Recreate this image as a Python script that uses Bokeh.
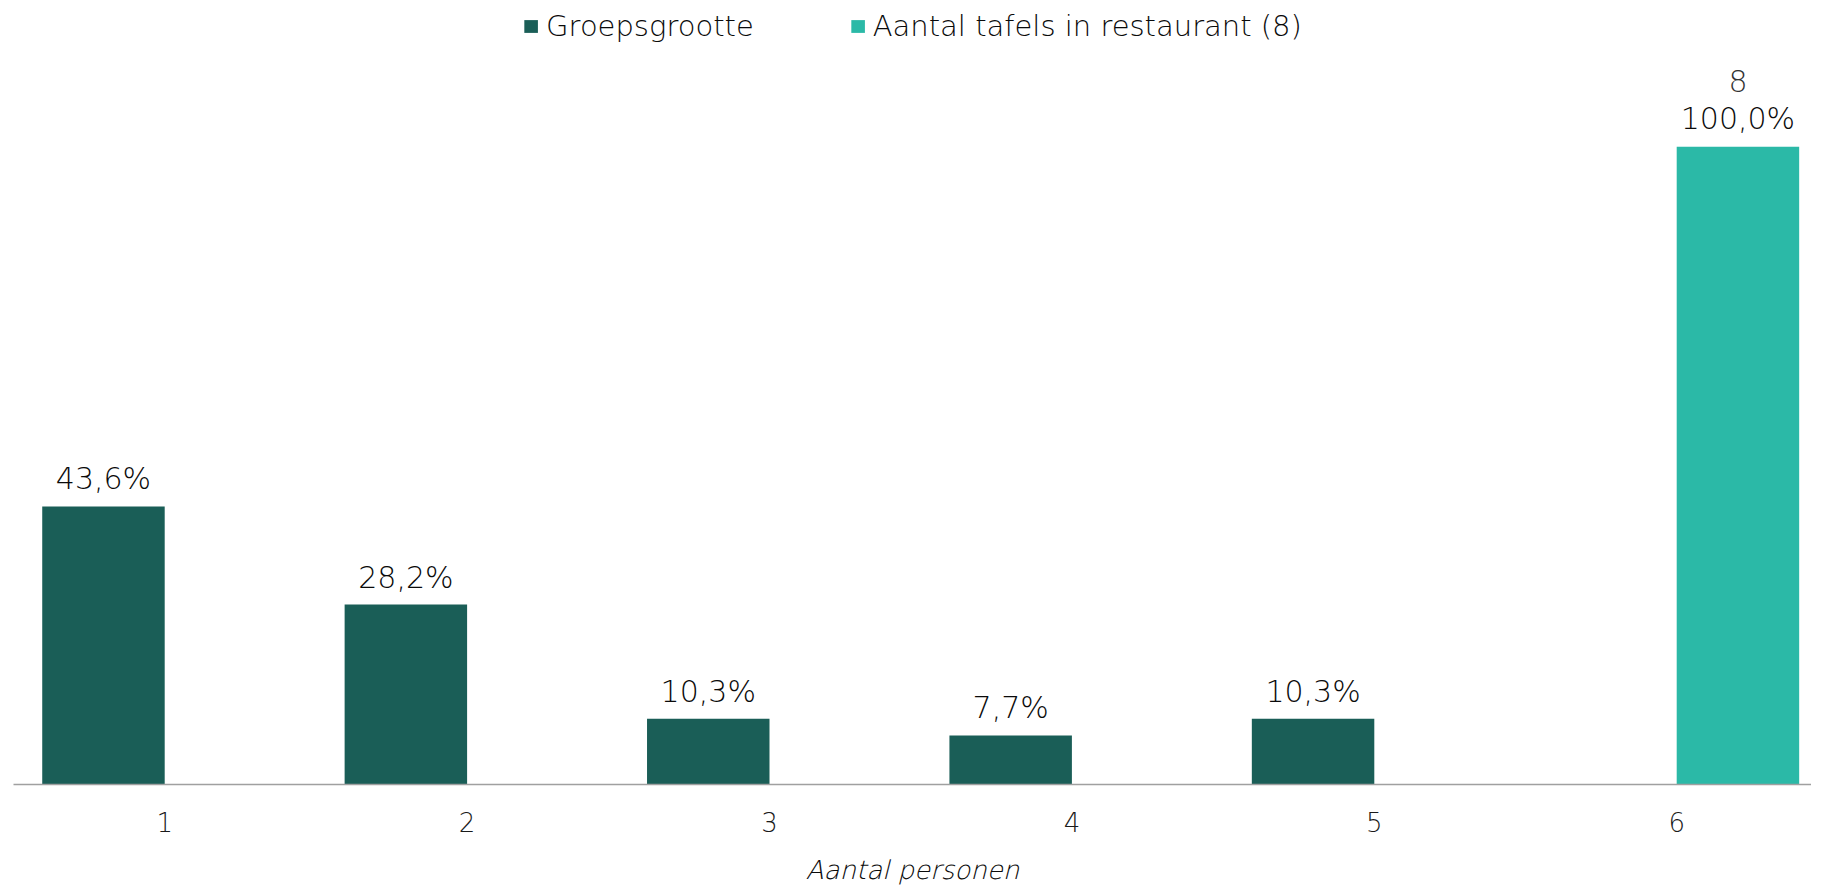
from bokeh.plotting import figure
from bokeh.models import ColumnDataSource, Range1d, FixedTicker, LabelSet, Legend, LegendItem
from bokeh.core.properties import value
from bokeh.transform import dodge
from bokeh.embed import file_html
from bokeh.resources import INLINE

categories = [1, 2, 3, 4, 5, 6]
groep_pct = [43.6, 28.2, 10.3, 7.7, 10.3, 0.0]
tafel_pct = [0.0, 0.0, 0.0, 0.0, 0.0, 100.0]
tafel_count = [None, None, None, None, None, 8]
tick_labels = ["1", "2", "3", "4", "5", "6"]

DARK = "#1a5e57"
TEAL = "#2bb9a7"
FONT = "DejaVu Sans Light"
TXT = "#0a0a0a"
W = 0.405
PX_PER_UNIT = 302.4
FRAME_W = 1798

src = ColumnDataSource(dict(x=categories, g=groep_pct, t=tafel_pct))

gi = [i for i, v in enumerate(groep_pct) if v > 0]
g_lab = ColumnDataSource(dict(
    x=[categories[i] for i in gi], y=[groep_pct[i] for i in gi],
    txt=[("%.1f%%" % groep_pct[i]).replace(".", ",") for i in gi]))
ti = [i for i, v in enumerate(tafel_pct) if v > 0]
t_lab = ColumnDataSource(dict(
    x=[categories[i] for i in ti], y=[tafel_pct[i] for i in ti],
    txt=[("%.1f%%" % tafel_pct[i]).replace(".", ",") for i in ti],
    cnt=[str(tafel_count[i]) for i in ti]))

p = figure(frame_width=FRAME_W, frame_height=775, output_backend="svg", toolbar_location=None,
           x_range=Range1d(0.5, 0.5 + FRAME_W / PX_PER_UNIT), y_range=Range1d(0, 121.5),
           min_border_left=13, min_border_right=0, min_border_top=9, min_border_bottom=0)
p.outline_line_color = None
p.background_fill_color = "white"
p.border_fill_color = "white"
p.xgrid.visible = False
p.ygrid.visible = False
p.yaxis.visible = False

r1 = p.vbar(x=dodge("x", -W / 2, range=p.x_range), top="g", width=W, source=src,
            fill_color=DARK, line_color=None)
r2 = p.vbar(x=dodge("x", W / 2, range=p.x_range), top="t", width=W, source=src,
            fill_color=TEAL, line_color=None)

p.add_layout(LabelSet(x=dodge("x", -W / 2, range=p.x_range), y="y", text="txt", source=g_lab,
                      text_align="center", text_baseline="alphabetic", y_offset=17,
                      text_font=value(FONT), text_font_size="30px", text_color=TXT))
p.add_layout(LabelSet(x=dodge("x", W / 2, range=p.x_range), y="y", text="txt", source=t_lab,
                      text_align="center", text_baseline="alphabetic", y_offset=18,
                      text_font=value(FONT), text_font_size="30px", text_color=TXT))
p.add_layout(LabelSet(x=dodge("x", W / 2, range=p.x_range), y="y", text="cnt", source=t_lab,
                      text_align="center", text_baseline="alphabetic", y_offset=55,
                      text_font=value(FONT), text_font_size="30px", text_color="#333333"))

ax = p.xaxis[0]
ax.ticker = FixedTicker(ticks=categories)
ax.major_label_overrides = {c: l for c, l in zip(categories, tick_labels)}
ax.major_tick_line_color = None
ax.minor_tick_line_color = None
ax.axis_line_color = "#a0a0a0"
ax.axis_line_width = 1.5
ax.major_label_text_font = FONT
ax.major_label_text_font_size = "26px"
ax.major_label_text_color = "#1a1a1a"
ax.major_label_standoff = 21
ax.axis_label = "Aantal personen"
ax.axis_label_text_font = FONT
ax.axis_label_text_font_style = "italic"
ax.axis_label_text_font_size = "26px"
ax.axis_label_text_color = TXT
ax.axis_label_standoff = 20

legend = Legend(items=[LegendItem(label="Groepsgrootte", renderers=[r1]),
                       LegendItem(label="Aantal tafels in restaurant (8)", renderers=[r2])],
                location="top_center", orientation="horizontal",
                label_text_font=FONT, label_text_font_size="29px", label_text_color=TXT,
                glyph_width=17, glyph_height=16, spacing=95, label_standoff=7,
                background_fill_alpha=0, border_line_color=None, padding=0, margin=0)
p.add_layout(legend)

open("out.html", "w").write(file_html(p, INLINE))
